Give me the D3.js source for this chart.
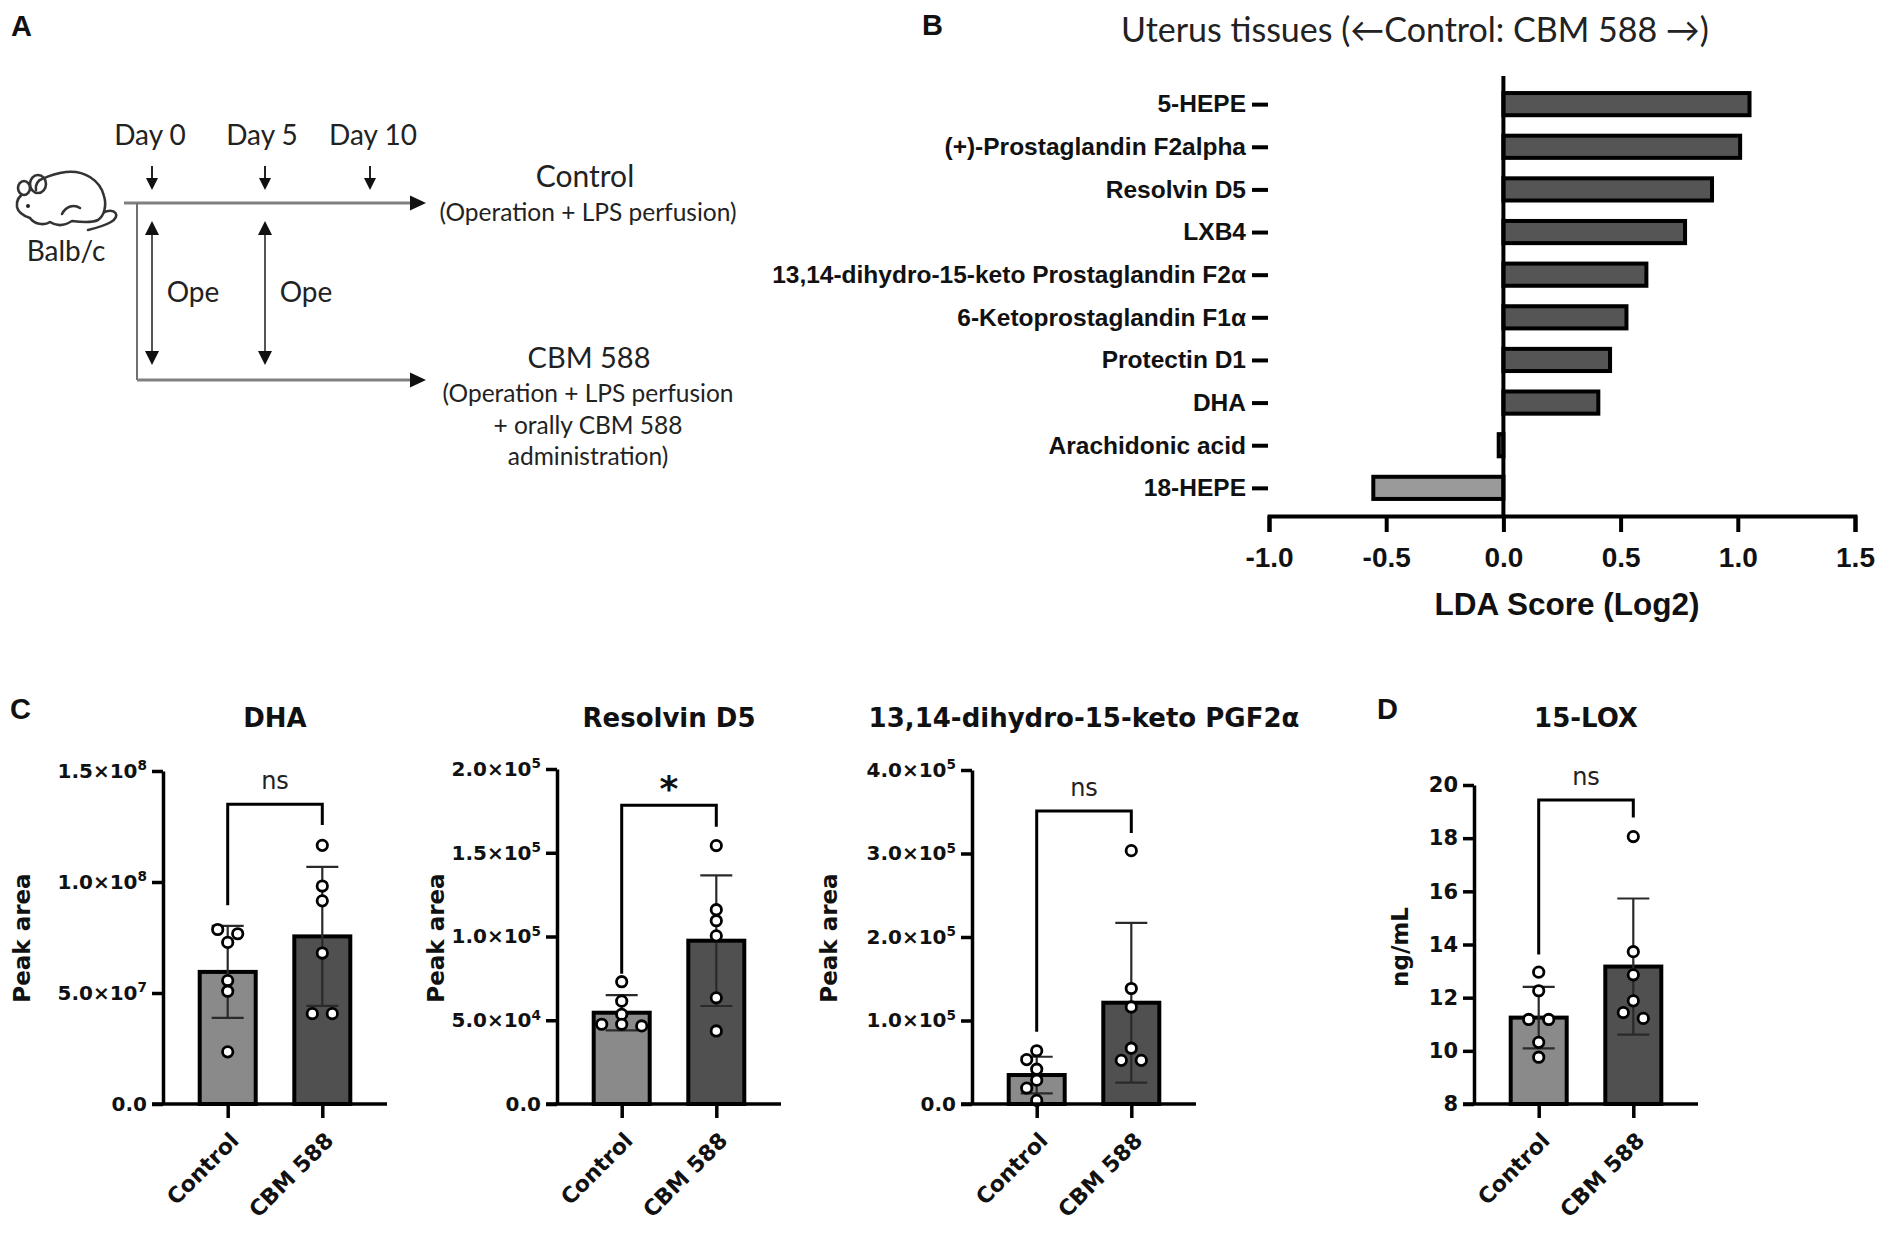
<!DOCTYPE html>
<html><head><meta charset="utf-8">
<script src="https://cdn.jsdelivr.net/npm/d3@7"></script>
<style>body{margin:0;background:#fff}svg{display:block}</style>
</head><body>
<svg id="chart" width="1902" height="1234"></svg>
<script>
// ---------------- DATA ----------------
// Panel B: LDA scores
const ldaCategories = ["5-HEPE","(+)-Prostaglandin F2alpha","Resolvin D5","LXB4",
  "13,14-dihydro-15-keto Prostaglandin F2α","6-Ketoprostaglandin F1α","Protectin D1","DHA",
  "Arachidonic acid","18-HEPE"];
const ldaScores = [1.05, 1.01, 0.89, 0.775, 0.61, 0.525, 0.455, 0.405, -0.02, -0.555];
const ldaTicks = [-1.0, -0.5, 0.0, 0.5, 1.0, 1.5];

// Panels C / D
const groups = ["Control", "CBM 588"];

const dhaControl = [7.67e7, 7.86e7, 7.28e7, 5.56e7, 5.08e7, 2.35e7];
const dhaCBM     = [1.165e8, 9.82e7, 9.15e7, 6.8e7, 4.07e7, 4.07e7];
const dhaMean    = [5.95e7, 7.55e7];
const dhaSD      = [2.07e7, 3.13e7];
const dhaTicks   = [0, 5e7, 1e8, 1.5e8];
const dhaTickLabels = ["0.0", "5.0×10^7", "1.0×10^8", "1.5×10^8"];
const dhaBracket = [1.35e8, 0.895e8, 1.257e8];   // level, left end, right end

const rvControl = [0.73e5, 0.614e5, 0.535e5, 0.476e5, 0.476e5, 0.466e5];
const rvCBM     = [1.543e5, 1.16e5, 1.094e5, 1.004e5, 0.634e5, 0.436e5];
const rvMean    = [0.545e5, 0.975e5];
const rvSD      = [0.105e5, 0.39e5];
const rvTicks   = [0, 5e4, 1e5, 1.5e5, 2e5];
const rvTickLabels = ["0.0", "5.0×10^4", "1.0×10^5", "1.5×10^5", "2.0×10^5"];
const rvBracket = [1.784e5, 0.777e5, 1.655e5];

const pgControl = [0.638e5, 0.532e5, 0.417e5, 0.285e5, 0.191e5, 0.043e5];
const pgCBM     = [3.034e5, 1.383e5, 1.162e5, 0.668e5, 0.523e5, 0.523e5];
const pgMean    = [0.347e5, 1.213e5];
const pgSD      = [0.219e5, 0.957e5];
const pgTicks   = [0, 1e5, 2e5, 3e5, 4e5];
const pgTickLabels = ["0.0", "1.0×10^5", "2.0×10^5", "3.0×10^5", "4.0×10^5"];
const pgBracket = [3.51e5, 0.864e5, 3.247e5];

const loxControl = [12.96, 12.26, 11.18, 11.18, 10.32, 9.76];
const loxCBM     = [18.06, 13.73, 12.86, 11.88, 11.44, 11.22];
const loxMean    = [11.25, 13.17];
const loxSD      = [1.155, 2.56];
const loxTicks   = [8, 10, 12, 14, 16, 18, 20];
const loxTickLabels = ["8", "10", "12", "14", "16", "18", "20"];
const loxBracket = [19.44, 13.62, 18.78];

// ---------------- SETUP ----------------
const svg = d3.select("#chart");
svg.append("rect").attr("width", 1902).attr("height", 1234).attr("fill", "#fff");
const INK = "#111";
const ARIAL = "'Liberation Sans', Arial, Helvetica, sans-serif";
const DJ = "'DejaVu Sans', Verdana, sans-serif";
const LATO = "Lato, 'Open Sans', sans-serif";

function panelLetter(x, y, t) {
  svg.append("text").attr("x", x).attr("y", y).attr("font-family", ARIAL)
    .attr("font-weight", "bold").attr("font-size", 29).attr("fill", INK).text(t);
}
panelLetter(11, 36, "A");
panelLetter(922, 35, "B");
panelLetter(10, 719, "C");
panelLetter(1377, 719, "D");

// ---------------- PANEL A (diagram) ----------------
const A = svg.append("g");
function head(g, x, y, dir, len, hw) {
  let p;
  if (dir === "right") p = [[x, y], [x - len, y - hw], [x - len, y + hw]];
  if (dir === "down")  p = [[x, y], [x - hw, y - len], [x + hw, y - len]];
  if (dir === "up")    p = [[x, y], [x - hw, y + len], [x + hw, y + len]];
  g.append("path").attr("d", "M" + p.map(d => d.join(",")).join("L") + "Z").attr("fill", "#111");
}
function aText(x, y, t, size, anchor) {
  A.append("text").attr("x", x).attr("y", y).attr("font-family", LATO).attr("font-size", size)
    .attr("fill", "#222").attr("text-anchor", anchor || "middle").text(t);
}
// mouse
const M = A.append("g").attr("fill", "#fff").attr("stroke", "#333").attr("stroke-width", 2.6)
  .attr("stroke-linejoin", "round").attr("stroke-linecap", "round");
M.append("path").attr("fill", "none").attr("d", "M102,213 C116,207 121,216 111,222 C104,226 96,228 88,230");
M.append("path").attr("d", "M17,207 C16,200 20,195 26,192 C34,181 50,174 66,172 C84,170 100,180 104,196 C107,206 104,216 98,220 C92,223 80,222 72,221 C64,226 56,226 50,222 C44,226 34,224 30,218 C24,216 18,212 17,207 Z");
M.append("ellipse").attr("cx", 24).attr("cy", 188).attr("rx", 6).attr("ry", 7);
M.append("ellipse").attr("cx", 38).attr("cy", 184).attr("rx", 8).attr("ry", 9);
M.append("path").attr("fill", "none").attr("d", "M36,190 C35,185 38,180 42,179");
M.append("path").attr("fill", "none").attr("d", "M62,214 C66,206 74,204 80,208");
M.append("circle").attr("cx", 28).attr("cy", 206).attr("r", 2).attr("fill", "#222").attr("stroke", "none");
aText(66, 261, "Balb/c", 28);

// timeline lines
A.append("line").attr("x1", 124).attr("x2", 412).attr("y1", 203).attr("y2", 203).attr("stroke", "#808080").attr("stroke-width", 3);
head(A, 426, 203, "right", 16, 7.5);
A.append("line").attr("x1", 137).attr("x2", 137).attr("y1", 203).attr("y2", 380).attr("stroke", "#707070").attr("stroke-width", 2);
A.append("line").attr("x1", 137).attr("x2", 412).attr("y1", 380).attr("y2", 380).attr("stroke", "#808080").attr("stroke-width", 3);
head(A, 426, 380, "right", 16, 7.5);

const dayLabels = ["Day 0", "Day 5", "Day 10"];
const dayX = [150, 262, 373];
const dayArrowX = [152, 265, 370];
dayLabels.forEach((d, i) => {
  aText(dayX[i], 145, d, 28);
  A.append("line").attr("x1", dayArrowX[i]).attr("x2", dayArrowX[i]).attr("y1", 166).attr("y2", 180).attr("stroke", "#222").attr("stroke-width", 2);
  head(A, dayArrowX[i], 190, "down", 12, 6);
});
[152, 265].forEach((x, i) => {
  A.append("line").attr("x1", x).attr("x2", x).attr("y1", 232).attr("y2", 354).attr("stroke", "#555").attr("stroke-width", 2);
  head(A, x, 221, "up", 14, 7);
  head(A, x, 365, "down", 14, 7);
  aText(x + 41, 302, "Ope", 28);
});
aText(585, 187, "Control", 30);
aText(588, 221, "(Operation + LPS perfusion)", 24.5);
aText(589, 368, "CBM 588", 29);
aText(588, 402, "(Operation + LPS perfusion", 24.5);
aText(588, 434, "+ orally CBM 588", 24.5);
aText(588, 465, "administration)", 24.5);

// ---------------- PANEL B ----------------
const B = svg.append("g");
const bx = d3.scaleLinear().domain([-1, 1.5]).range([1269, 1855]);
const by = d3.scalePoint().domain(ldaCategories).range([76, 516]).padding(0.66);
const barH = by.step() * 0.52;

B.selectAll("rect.lda").data(ldaCategories).join("rect")
  .attr("x", (c, i) => bx(Math.min(0, ldaScores[i])))
  .attr("width", (c, i) => Math.abs(bx(ldaScores[i]) - bx(0)))
  .attr("y", c => by(c) - barH / 2)
  .attr("height", barH)
  .attr("fill", (c, i) => ldaScores[i] >= 0 ? "#555" : "#9a9a9a")
  .attr("stroke", "#000").attr("stroke-width", 4);

B.append("line").attr("x1", bx(0)).attr("x2", bx(0)).attr("y1", 76).attr("y2", 518)
  .attr("stroke", "#000").attr("stroke-width", 4);

const bxAxis = B.append("g").attr("transform", "translate(0,516)")
  .call(d3.axisBottom(bx).tickValues(ldaTicks).tickSize(16).tickSizeOuter(16).tickPadding(15)
    .tickFormat(d => d.toFixed(1)));
bxAxis.attr("font-family", ARIAL).attr("font-size", 28).attr("font-weight", "bold");
bxAxis.selectAll("path,line").attr("stroke", "#000").attr("stroke-width", 4);
bxAxis.selectAll("text").attr("fill", INK);

const byAxis = B.append("g").attr("transform", "translate(1268,0)")
  .call(d3.axisLeft(by).tickSize(16).tickPadding(6));
byAxis.select(".domain").remove();
byAxis.attr("font-family", ARIAL).attr("font-size", 24.5).attr("font-weight", "bold");
byAxis.selectAll("line").attr("stroke", "#000").attr("stroke-width", 4);
byAxis.selectAll("text").attr("fill", INK);

B.append("text").attr("x", 1415).attr("y", 42).attr("text-anchor", "middle")
  .attr("font-family", LATO).attr("font-size", 34).attr("fill", "#222")
  .text("Uterus tissues (\u2190Control: CBM 588 \u2192)");
B.append("text").attr("x", 1567).attr("y", 615).attr("text-anchor", "middle")
  .attr("font-family", ARIAL).attr("font-size", 31.5).attr("font-weight", "bold").attr("fill", INK)
  .text("LDA Score (Log2)");

// ---------------- PANELS C & D ----------------
const panels = [
  { title: "DHA", ctrl: dhaControl, cbm: dhaCBM, mean: dhaMean, sd: dhaSD, ticks: dhaTicks, labels: dhaTickLabels,
    domain: [0, 1.5e8], bracket: dhaBracket, sig: "ns", ylab: "Peak area", axisX: 163, yTop: 771, ylabX: 22, tickFont: 20 },
  { title: "Resolvin D5", ctrl: rvControl, cbm: rvCBM, mean: rvMean, sd: rvSD, ticks: rvTicks, labels: rvTickLabels,
    domain: [0, 2e5], bracket: rvBracket, sig: "*", ylab: "Peak area", axisX: 557, yTop: 769, ylabX: 436, tickFont: 20 },
  { title: "13,14-dihydro-15-keto PGF2α", ctrl: pgControl, cbm: pgCBM, mean: pgMean, sd: pgSD, ticks: pgTicks, labels: pgTickLabels,
    domain: [0, 4e5], bracket: pgBracket, sig: "ns", ylab: "Peak area", axisX: 972, yTop: 770, ylabX: 829, tickFont: 20 },
  { title: "15-LOX", ctrl: loxControl, cbm: loxCBM, mean: loxMean, sd: loxSD, ticks: loxTicks, labels: loxTickLabels,
    domain: [8, 20], bracket: loxBracket, sig: "ns", ylab: "ng/mL", axisX: 1474, yTop: 785, ylabX: 1400, tickFont: 21 }
];
const Y0 = 1104;
const barFill = ["#8a8a8a", "#505050"];

function swarm(vals, yScale, cx) {
  const pts = vals.map(v => ({ v, py: yScale(v) })).sort((a, b) => a.py - b.py);
  const placed = [];
  const step = 20, half = 10, coll = 10.5, rowTol = 6;
  let i = 0;
  while (i < pts.length) {
    let j = i + 1;
    while (j < pts.length && pts[j].py - pts[i].py < rowTol) j++;
    const n = j - i;
    if (n > 1) {
      for (let k = 0; k < n; k++) { pts[i + k].px = cx + (k - (n - 1) / 2) * step; placed.push(pts[i + k]); }
    } else {
      for (const c of [0, -half, half, -step, step]) {
        const px = cx + c;
        if (placed.every(q => Math.hypot(q.px - px, q.py - pts[i].py) >= coll)) { pts[i].px = px; break; }
      }
      if (pts[i].px === undefined) pts[i].px = cx;
      placed.push(pts[i]);
    }
    i = j;
  }
  return pts;
}

function setSupLabel(textSel, str) {
  const parts = str.split("^");
  textSel.text(parts[0]);
  if (parts.length > 1) {
    textSel.append("tspan").attr("dy", "-0.55em").attr("font-size", "0.68em").text(parts[1]);
  }
}

panels.forEach(p => {
  const g = svg.append("g");
  const y = d3.scaleLinear().domain(p.domain).range([Y0, p.yTop]);
  const x = d3.scalePoint().domain(groups).range([p.axisX, p.axisX + 224]).padding(0.684);
  const bw = 56;
  const base = p.domain[0];

  // bars
  g.selectAll("rect.bar").data(groups).join("rect")
    .attr("x", d => x(d) - bw / 2).attr("width", bw)
    .attr("y", (d, i) => y(p.mean[i])).attr("height", (d, i) => y(base) - y(p.mean[i]))
    .attr("fill", (d, i) => barFill[i]).attr("stroke", "#000").attr("stroke-width", 4);

  // error bars
  groups.forEach((gr, i) => {
    const lo = y(p.mean[i] - p.sd[i]), hi = y(p.mean[i] + p.sd[i]), cx = x(gr);
    const eg = g.append("g").attr("stroke", "#2a2a2a").attr("stroke-width", 2.2);
    eg.append("line").attr("x1", cx).attr("x2", cx).attr("y1", lo).attr("y2", hi);
    eg.append("line").attr("x1", cx - 16).attr("x2", cx + 16).attr("y1", hi).attr("y2", hi);
    eg.append("line").attr("x1", cx - 16).attr("x2", cx + 16).attr("y1", lo).attr("y2", lo);
  });

  // points
  [p.ctrl, p.cbm].forEach((vals, i) => {
    const pts = swarm(vals, y, x(groups[i]));
    g.selectAll(null).data(pts).join("circle")
      .attr("cx", d => d.px).attr("cy", d => d.py).attr("r", 5.2)
      .attr("fill", "#fff").attr("stroke", "#000").attr("stroke-width", 2.8);
  });

  // y axis
  const ya = g.append("g").attr("transform", `translate(${p.axisX},0)`)
    .call(d3.axisLeft(y).tickValues(p.ticks).tickSize(11).tickSizeOuter(0).tickPadding(5)
      .tickFormat((d, i) => p.labels[i]));
  ya.attr("font-family", DJ).attr("font-size", p.tickFont).attr("font-weight", "bold");
  ya.selectAll("path,line").attr("stroke", "#000").attr("stroke-width", 3.5);
  ya.selectAll(".tick text").attr("fill", INK).each(function (d, i) { setSupLabel(d3.select(this), p.labels[i]); });

  // x axis
  g.append("line").attr("x1", p.axisX - 11).attr("x2", p.axisX + 224).attr("y1", Y0).attr("y2", Y0)
    .attr("stroke", "#000").attr("stroke-width", 3.5);
  const xa = g.append("g").attr("transform", `translate(0,${Y0})`)
    .call(d3.axisBottom(x).tickSize(14).tickSizeOuter(0));
  xa.select(".domain").remove();
  xa.attr("font-family", DJ).attr("font-size", 22).attr("font-weight", "bold");
  xa.selectAll("line").attr("stroke", "#000").attr("stroke-width", 3.5);
  xa.selectAll("text").attr("fill", INK).attr("x", 0).attr("y", 0).attr("dy", 0)
    .attr("text-anchor", "end").attr("transform", "translate(12,38) rotate(-45)");

  // title
  g.append("text").attr("x", p.axisX + 112).attr("y", 727).attr("text-anchor", "middle")
    .attr("font-family", DJ).attr("font-weight", "bold").attr("font-size", 26).attr("fill", INK).text(p.title);
  // y label
  g.append("text").attr("transform", `translate(${p.ylabX + 8},${p.ylab === "ng/mL" ? 947 : 938}) rotate(-90)`)
    .attr("text-anchor", "middle").attr("font-family", DJ).attr("font-weight", "bold").attr("font-size", 23)
    .attr("fill", INK).text(p.ylab);

  // significance bracket
  const bx1 = x(groups[0]), bx2 = x(groups[1]);
  g.append("path")
    .attr("d", `M${bx1},${y(p.bracket[1])}V${y(p.bracket[0])}H${bx2}V${y(p.bracket[2])}`)
    .attr("fill", "none").attr("stroke", "#000").attr("stroke-width", 3);
  if (p.sig === "*") {
    g.append("text").attr("x", (bx1 + bx2) / 2).attr("y", y(p.bracket[0]) - 4).attr("text-anchor", "middle")
      .attr("font-family", DJ).attr("font-weight", "bold").attr("font-size", 36).attr("fill", INK).text("*");
  } else {
    g.append("text").attr("x", (bx1 + bx2) / 2).attr("y", y(p.bracket[0]) - 15).attr("text-anchor", "middle")
      .attr("font-family", DJ).attr("font-size", 24).attr("fill", "#222").text(p.sig);
  }
});
</script>
</body></html>
